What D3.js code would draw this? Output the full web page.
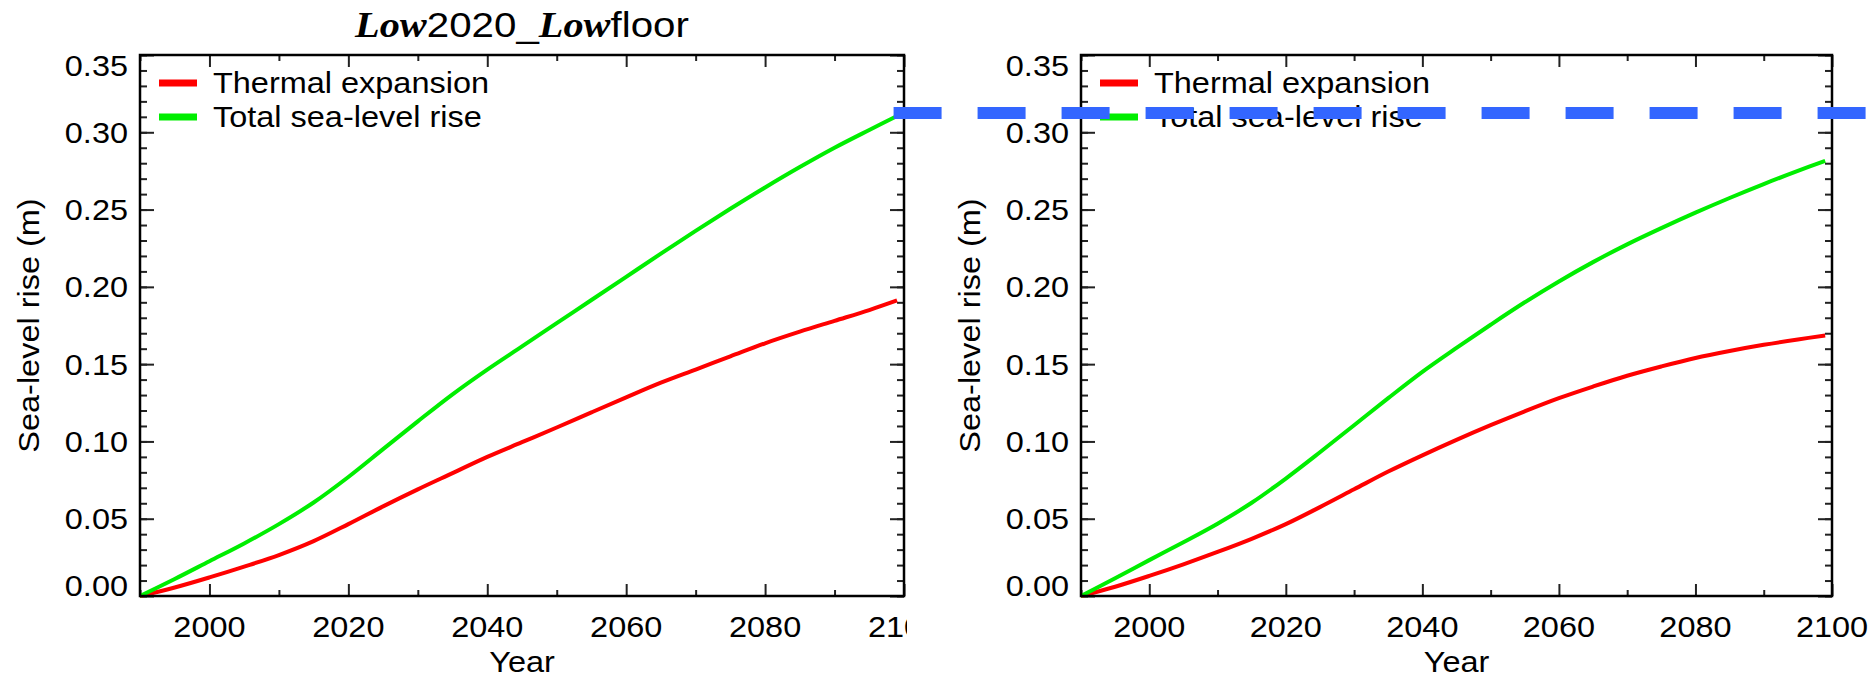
<!DOCTYPE html>
<html>
<head>
<meta charset="utf-8">
<title>Sea-level rise</title>
<script src="https://d3js.org/d3.v7.min.js"></script>
<style>
body{margin:0;background:#fff;}
svg{display:block;}
text{font-family:"Liberation Sans",Arial,sans-serif;fill:#000;}
</style>
</head>
<body>
<svg id="chart" width="1872" height="678"></svg>
<script>
// values
var years        = [1990,1995,2000,2005,2010,2015,2020,2025,2030,2035,2040,2045,2050,2055,2060,2065,2070,2075,2080,2085,2090,2095,2099];
var thermalLeft  = [0,0.0055,0.012,0.019,0.0265,0.0355,0.0465,0.058,0.069,0.0795,0.090,0.0995,0.109,0.1188,0.1285,0.138,0.1465,0.155,0.1635,0.171,0.178,0.185,0.1912];
var totalLeft    = [0,0.011,0.0225,0.034,0.0465,0.0605,0.077,0.095,0.113,0.1305,0.1465,0.1615,0.1765,0.1915,0.2065,0.2215,0.2362,0.2505,0.2643,0.2775,0.290,0.3015,0.3105];
var thermalRight = [0,0.006,0.013,0.0205,0.0285,0.037,0.0465,0.0575,0.069,0.0805,0.091,0.101,0.1105,0.1195,0.128,0.1355,0.1425,0.1485,0.154,0.1585,0.1625,0.166,0.1685];
var totalRight   = [0,0.0115,0.0232,0.0348,0.0468,0.0603,0.076,0.093,0.1105,0.128,0.145,0.1605,0.1755,0.190,0.2035,0.216,0.2275,0.238,0.248,0.2575,0.2665,0.275,0.2815];

var xTicks      = [2000,2020,2040,2060,2080,2100];
var xMinorTicks = [1990,2010,2030,2050,2070,2090];
var yTicks      = [0,0.05,0.10,0.15,0.20,0.25,0.30,0.35];
var yMinorTicks = d3.range(0,36).map(function(i){return i/100;});
var legendNames = ["Thermal expansion","Total sea-level rise"];
var legendColors= ["#ff0000","#00ee00"];

var blueLevel = 0.3125, blueFromYear = 2098.5;

var FS = 29, SX = 1.12;
var svg = d3.select("#chart");

function label(g, txt, x, y, anchor, rot){
    return g.append("text")
        .attr("transform","translate("+x+","+y+")"+(rot?" rotate("+rot+")":"")+" scale("+SX+",1)")
        .attr("text-anchor",anchor)
        .style("font-size",FS+"px")
        .text(txt);
}

function panel(left, right, thermal, total, bgFrom){
    var x = d3.scaleLinear([1990,2100],[left,right]);
    var y = d3.scaleLinear([0,0.35],[596,55]);
    var g = svg.append("g");
    if(bgFrom!=null) g.append("rect").attr("x",bgFrom).attr("y",0).attr("width",1872-bgFrom).attr("height",678).attr("fill","#fff");

    function ax(gen, tr, vals, size){
        g.append("g").attr("transform",tr)
         .call(gen.tickValues(vals).tickSize(size).tickFormat(""))
         .call(function(s){s.select(".domain").remove();s.selectAll("line").attr("stroke","#222").attr("stroke-width",2);});
    }
    ax(d3.axisTop(x),    "translate(0,"+y(0)+")",    xMinorTicks, 6);
    ax(d3.axisTop(x),    "translate(0,"+y(0)+")",    xTicks, 12);
    ax(d3.axisBottom(x), "translate(0,"+y(0.35)+")", xMinorTicks, 6);
    ax(d3.axisBottom(x), "translate(0,"+y(0.35)+")", xTicks, 12);
    ax(d3.axisRight(y),  "translate("+left+",0)",    yMinorTicks, 7);
    ax(d3.axisRight(y),  "translate("+left+",0)",    yTicks, 14);
    ax(d3.axisLeft(y),   "translate("+right+",0)",   yMinorTicks, 7);
    ax(d3.axisLeft(y),   "translate("+right+",0)",   yTicks, 14);

    var line = d3.line().x(function(d,i){return x(years[i]);}).y(function(d){return y(d);}).curve(d3.curveCatmullRom.alpha(0.5));
    [thermal,total].forEach(function(s,i){
        g.append("path").attr("d",line(s)).attr("fill","none")
         .attr("stroke",legendColors[i]).attr("stroke-width",4).attr("stroke-linejoin","round");
    });

    g.append("rect").attr("x",left).attr("y",y(0.35)).attr("width",right-left).attr("height",y(0)-y(0.35))
     .attr("fill","none").attr("stroke","#000").attr("stroke-width",2.5);

    // tick labels
    yTicks.forEach(function(v){
        var by = Math.min(Math.max(y(v)+10.4, y(0.35)+21), y(0));
        label(g, v.toFixed(2), left-12, by, "end");
    });
    xTicks.forEach(function(v){ label(g, String(v), x(v), 637, "middle"); });
    label(g, "Year", (left+right)/2, 672, "middle");
    label(g, "Sea-level rise (m)", left-101, (y(0)+y(0.35))/2, "middle", -90);

    // legend
    legendNames.forEach(function(n,i){
        var ly = y(0.35)+28+i*34;
        g.append("line").attr("x1",left+19).attr("x2",left+57).attr("y1",ly).attr("y2",ly)
         .attr("stroke",legendColors[i]).attr("stroke-width",7);
        label(g, n, left+73, ly+10, "start");
    });
    return {x:x, y:y};
}

var L = panel(140, 904, thermalLeft, totalLeft, null);
var R = panel(1081, 1832, thermalRight, totalRight, 907);

// title over the left panel
var t = svg.append("text")
    .attr("transform","translate("+((140+904)/2)+",37) scale("+SX+",1)")
    .attr("text-anchor","middle").style("font-size","36px");
t.append("tspan").style("font-family","'Liberation Serif',serif").style("font-weight","bold").style("font-style","italic").text("Low");
t.append("tspan").text("2020_");
t.append("tspan").style("font-family","'Liberation Serif',serif").style("font-weight","bold").style("font-style","italic").text("Low");
t.append("tspan").text("floor");

// blue dashed reference level carried across to the right panel
svg.append("line")
    .attr("x1",L.x(blueFromYear)).attr("x2",1872)
    .attr("y1",L.y(blueLevel)).attr("y2",L.y(blueLevel))
    .attr("stroke","#3366ff").attr("stroke-width",12).attr("stroke-dasharray","48 36");
</script>
</body>
</html>
